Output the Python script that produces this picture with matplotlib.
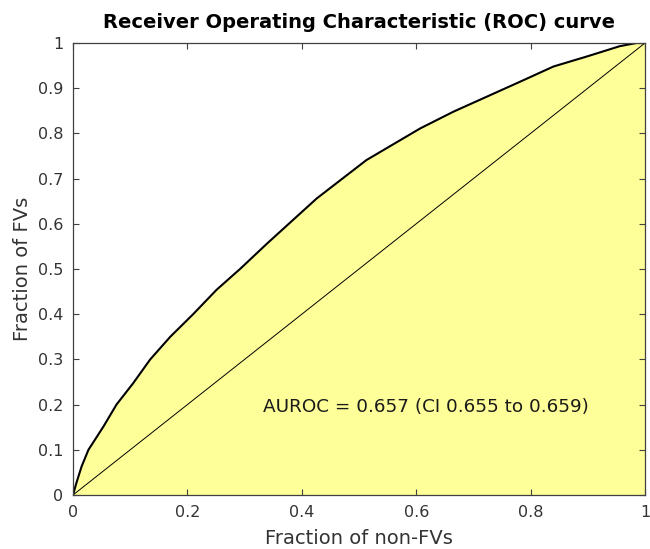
import matplotlib
matplotlib.use('Agg')
import matplotlib.pyplot as plt
import numpy as np

# --- DATA ---
fpr = [0.0, 0.006, 0.015, 0.027, 0.053, 0.076, 0.105, 0.135, 0.17, 0.21, 0.251, 0.292,
       0.339, 0.426, 0.513, 0.607, 0.665, 0.723, 0.781, 0.84, 0.898, 0.956, 0.985, 1.0]
tpr = [0.0, 0.027, 0.063, 0.10, 0.151, 0.20, 0.247, 0.30, 0.35, 0.40, 0.454, 0.50,
       0.556, 0.656, 0.741, 0.811, 0.848, 0.881, 0.914, 0.948, 0.970, 0.993, 1.0, 1.0]
auroc_text = 'AUROC = 0.657 (CI 0.655 to 0.659)'

yticks = np.arange(0, 1.01, 0.1)
xticks = np.arange(0, 1.01, 0.2)

# --- PLOT ---
fig = plt.figure(figsize=(6.5, 5.49), dpi=100)
ax = fig.add_axes([73/650, 1-495/549, 572/650, 452/549])

ax.fill_between(fpr, tpr, 0, color='#ffff99', lw=0)
ax.plot(fpr, tpr, color='k', lw=1.5)
ax.plot([0, 1], [0, 1], color='k', lw=0.7)

ax.text(0.332, 0.195, auroc_text, fontsize=13.2, va='center', ha='left', color='#1a1a1a')

ax.set_xlim(0, 1)
ax.set_ylim(0, 1)
ax.set_xticks(xticks)
ax.set_yticks(yticks)
ax.set_xticklabels(['0', '0.2', '0.4', '0.6', '0.8', '1'])
ax.set_yticklabels(['0'] + ['%.1f' % t for t in yticks[1:-1]] + ['1'])
ax.tick_params(direction='in', top=True, right=True, length=4, width=0.8,
               colors='#404040', labelcolor='#333333', labelsize=11.5, pad=7)
for s in ax.spines.values():
    s.set_color('#404040')
    s.set_linewidth(0.9)

ax.set_xlabel('Fraction of non-FVs', fontsize=14, color='#333333', labelpad=7)
ax.set_ylabel('Fraction of FVs', fontsize=14, color='#333333', labelpad=4)
ax.set_title('Receiver Operating Characteristic (ROC) curve', fontsize=14,
             fontweight='bold', color='k', pad=11)

fig.savefig('out.png', dpi=100)
